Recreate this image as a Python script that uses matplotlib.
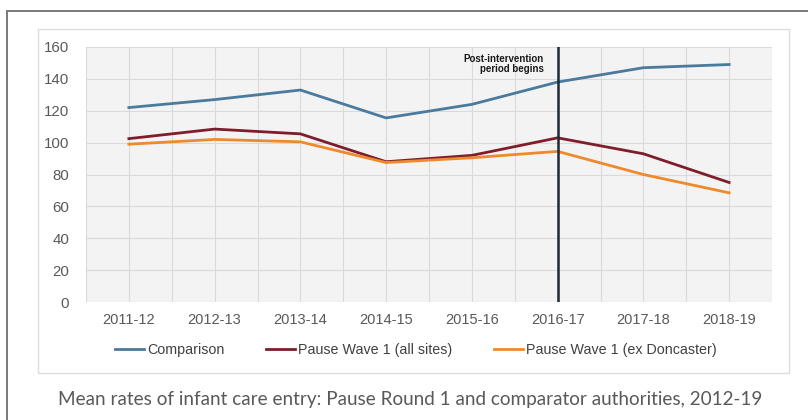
import matplotlib
matplotlib.use("Agg")
import matplotlib.pyplot as plt
from matplotlib.patches import Rectangle
from matplotlib.lines import Line2D
import numpy as np

# Financial years on the x axis
years = ["2011-12", "2012-13", "2013-14", "2014-15", "2015-16",
         "2016-17", "2017-18", "2018-19"]

# Mean rates of infant care entry
comparison = [122, 127, 133, 115.5, 124, 138, 147, 149]
pause_all_sites = [102.5, 108.5, 105.5, 88, 92, 103, 93, 75]
pause_ex_doncaster = [99, 102, 100.5, 87.5, 90.5, 94.5, 80, 68.5]

series_names = ["Comparison", "Pause Wave 1 (all sites)",
                "Pause Wave 1 (ex Doncaster)"]
series_colors = ["#4a7a9c", "#7f1d2b", "#ee8a2c"]

intervention_year = "2016-17"
y_ticks = [0, 20, 40, 60, 80, 100, 120, 140, 160]

caption = ("Mean rates of infant care entry: Pause Round 1 and comparator "
           "authorities, 2012-19")

plt.rcParams["font.family"] = ["Liberation Sans", "DejaVu Sans"]

W, H = 808, 420
fig = plt.figure(figsize=(W / 100, H / 100), dpi=100)
fig.patch.set_facecolor("white")

# Outer frame (left and top edges)
fig.add_artist(Line2D([7 / W, 7 / W], [0, 1 - 11 / H], color="#7a7a7a",
                      lw=1.4, transform=fig.transFigure))
fig.add_artist(Line2D([7 / W, 1], [1 - 11 / H, 1 - 11 / H], color="#7a7a7a",
                      lw=1.4, transform=fig.transFigure))

# Inner chart panel
fig.add_artist(Rectangle((38 / W, 1 - 373 / H), (789 - 38) / W, (373 - 29) / H,
                         transform=fig.transFigure, facecolor="white",
                         edgecolor="#dcdcdc", lw=1.0, zorder=0))

ax = fig.add_axes([86 / W, 1 - 302 / H, (772 - 86) / W, (302 - 47) / H])
ax.set_facecolor("#f3f3f3")

x = np.arange(len(years))
for vals, name, col in zip([comparison, pause_all_sites, pause_ex_doncaster],
                           series_names, series_colors):
    ax.plot(x, vals, color=col, lw=2.0, label=name, zorder=3,
            solid_joinstyle="round")

ax.set_xlim(-0.5, len(years) - 0.5)
ax.set_ylim(0, 160)
ax.set_yticks(y_ticks)
ax.set_xticks(x)
ax.set_xticklabels(years)
ax.set_xticks(np.arange(-0.5, len(years)), minor=True)
ax.grid(True, which="both", axis="x", color="#dadada", lw=0.8)
ax.grid(True, which="major", axis="y", color="#dadada", lw=0.8)
ax.set_axisbelow(True)
for s in ax.spines.values():
    s.set_visible(False)
ax.tick_params(axis="both", which="both", length=0)
ax.tick_params(axis="y", pad=12, labelsize=10.8, labelcolor="#595959")
ax.tick_params(axis="x", pad=8, labelsize=10.5, labelcolor="#595959")

# Start of the post-intervention period
xi = years.index(intervention_year)
ax.axvline(xi, color="#1b2a38", lw=1.8, zorder=4)
ax.annotate("Post-intervention\nperiod begins", xy=(xi, 160),
            xytext=(-10, -5), textcoords="offset points",
            ha="right", va="top", fontsize=7.0, fontweight="bold",
            color="#1a1a1a", linespacing=1.0,
            family=["Liberation Sans Narrow", "Liberation Sans"])

leg = fig.legend(loc="center", bbox_to_anchor=(416 / W, 1 - 350 / H), ncol=3,
                 frameon=False, fontsize=10.3, handlelength=2.0,
                 handletextpad=0.25, columnspacing=2.9)
for t in leg.get_texts():
    t.set_color("#404040")

fig.text(410 / W, 1 - 399 / H, caption, ha="center", va="center",
         fontsize=13.6, color="#595959", family=["Lato", "DejaVu Sans"])

fig.savefig("out.png", dpi=100)
